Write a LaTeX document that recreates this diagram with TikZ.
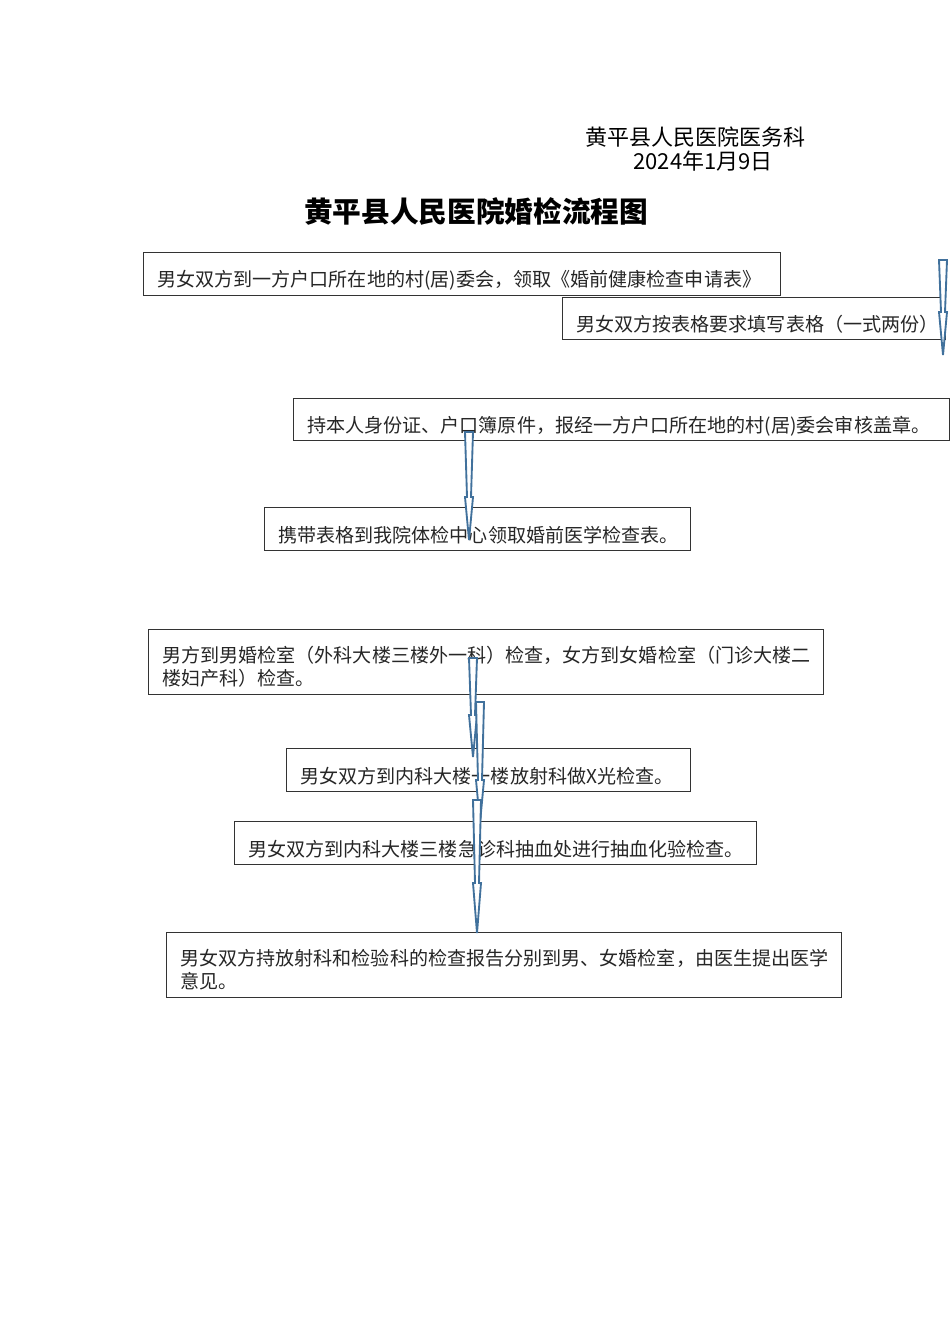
\documentclass[tikz,border=0pt]{standalone}
\usepackage{fontspec}
\newfontfamily\cjk{Noto Sans CJK SC}
\begin{document}
\begin{tikzpicture}[x=0.75pt,y=-0.75pt,
  bx/.style={draw=black!80,line width=0.6pt},
  tx/.style={anchor=west,inner sep=0,font=\cjk\fontsize{14.3}{17}\selectfont,text=black!85},
  arr/.style={draw={rgb,255:red,65;green,113;blue,156},line width=1.4pt,fill=white,line join=miter}]
\useasboundingbox (0,0) rectangle (950,1344);
\node[inner sep=0,font=\cjk\fontsize{16.5}{18}\selectfont,anchor=west] (h1) at (585,137) {黄平县人民医院医务科};
\node[inner sep=0,font=\cjk\fontsize{16.5}{18}\selectfont] (h2) at (703,161) {2024年1月9日};
\node[inner sep=0,font=\cjk\bfseries\fontsize{21.5}{24}\selectfont] (t) at (476,211) {黄平县人民医院婚检流程图};
\draw[bx] (143,252) rectangle (780,295);
\node[tx] (n1) at (157,280) {男女双方到一方户口所在地的村(居)委会，领取《婚前健康检查申请表》};
\draw[bx] (562,297) rectangle (945,339);
\node[tx] (n2) at (576,324) {男女双方按表格要求填写表格（一式两份）};
\draw[bx] (293,398) rectangle (949,440);
\node[tx] (n3) at (307,426) {持本人身份证、户口簿原件，报经一方户口所在地的村(居)委会审核盖章。};
\draw[bx] (264,507) rectangle (690,550);
\node[tx] (n4) at (278,535) {携带表格到我院体检中心领取婚前医学检查表。};
\draw[bx] (148,629) rectangle (823,694);
\node[tx,align=left,anchor=north west] (n5) at (162,646) {男方到男婚检室（外科大楼三楼外一科）检查，女方到女婚检室（门诊大楼二\\楼妇产科）检查。};
\draw[bx] (286,748) rectangle (690,791);
\node[tx] (n6) at (300,776) {男女双方到内科大楼一楼放射科做X光检查。};
\draw[bx] (234,821) rectangle (756,864);
\node[tx] (n7) at (248,849) {男女双方到内科大楼三楼急诊科抽血处进行抽血化验检查。};
\draw[bx] (166,932) rectangle (841,997);
\node[tx,align=left,anchor=north west] (n8) at (180,949) {男女双方持放射科和检验科的检查报告分别到男、女婚检室，由医生提出医学\\意见。};
\foreach \x/\a/\m/\b in {943/260/312/355, 469/432/497/540, 473/658/715/757, 480/702/780/823, 477/800/883/933}{
  \draw[arr] (\x-4,\a)--(\x+4,\a)--(\x+2,\m)--(\x+4,\m)--(\x,\b)--(\x-4,\m)--(\x-2,\m)--cycle;
}
\end{tikzpicture}
\end{document}
